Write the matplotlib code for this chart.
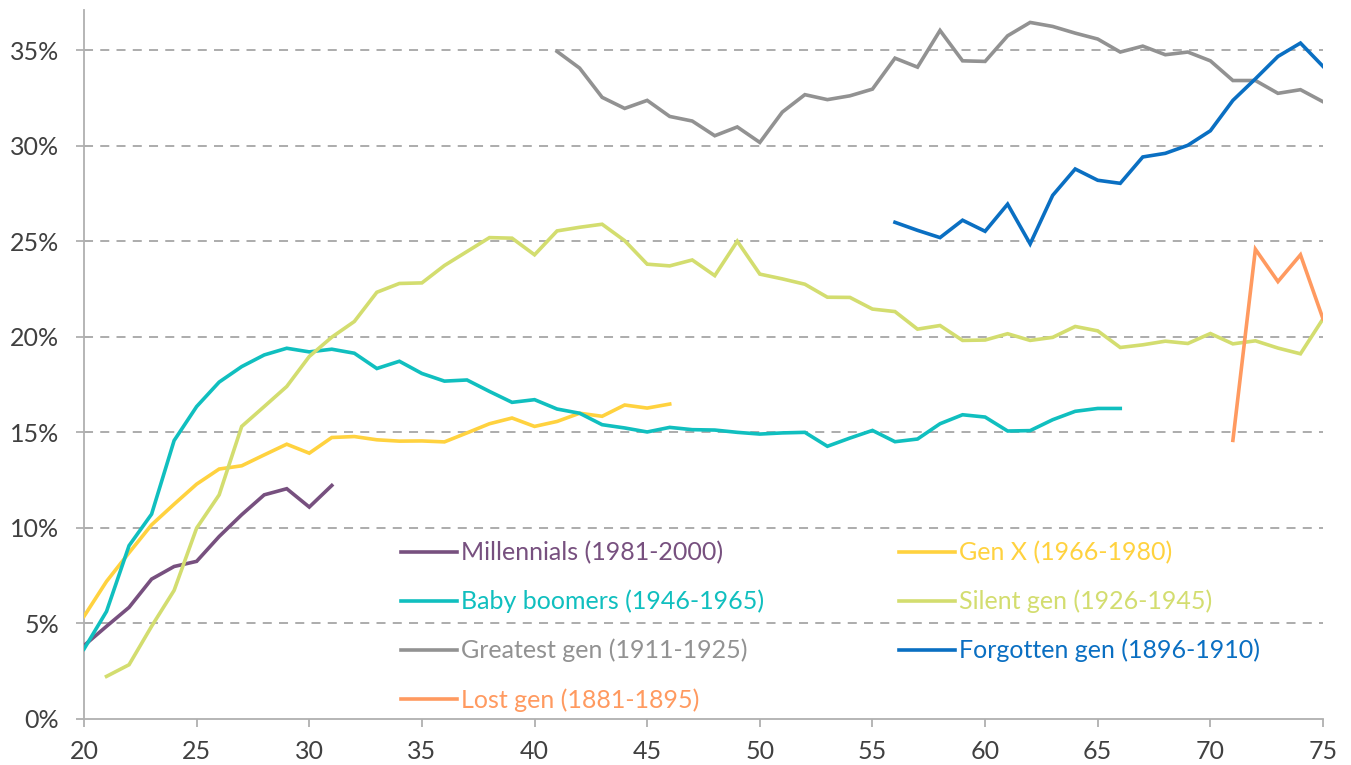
import matplotlib
matplotlib.use("Agg")
import matplotlib.pyplot as plt
import numpy as np

plt.rcParams['font.family'] = ['Lato', 'DejaVu Sans']

# ---------------- data ----------------
millennials_ages = list(range(20, 32))
millennials = [3.84, 4.85, 5.84, 7.32, 7.98, 8.25, 9.55, 10.69, 11.73, 12.05, 11.09, 12.22]

genx_ages = list(range(20, 47))
genx = [5.37, 7.2, 8.7, 10.16, 11.24, 12.29, 13.08, 13.25, 13.82, 14.38, 13.91, 14.73,
        14.78, 14.61, 14.54, 14.55, 14.5, 14.97, 15.45, 15.75, 15.31, 15.57, 16.0,
        15.84, 16.43, 16.27, 16.48]

boomers_ages = list(range(20, 67))
boomers = [3.66, 5.63, 9.07, 10.72, 14.57, 16.35, 17.63, 18.44, 19.05, 19.4, 19.21,
           19.35, 19.14, 18.34, 18.72, 18.08, 17.68, 17.74, 17.14, 16.57, 16.71, 16.22,
           16.0, 15.4, 15.23, 15.02, 15.26, 15.14, 15.12, 15.0, 14.91, 14.97,
           15.0, 14.27, 14.7, 15.1, 14.51, 14.65, 15.45, 15.92, 15.8, 15.07, 15.09,
           15.66, 16.1, 16.25, 16.25]

silent_ages = list(range(21, 76))
silent = [2.23, 2.84, 4.85, 6.73, 9.99, 11.73, 15.31, 16.35, 17.4, 18.97, 19.98, 20.8,
          22.33, 22.79, 22.82, 23.73, 24.46, 25.19, 25.16, 24.29, 25.54, 25.73, 25.89,
          25.03, 23.8, 23.71, 24.02, 23.2, 25.0, 23.28, 23.03, 22.75, 22.07, 22.06,
          21.45, 21.32, 20.4, 20.59, 19.81, 19.83, 20.16, 19.81, 19.97, 20.54, 20.31,
          19.44, 19.58, 19.77, 19.65, 20.17, 19.63, 19.79, 19.41, 19.11, 20.94]

greatest_ages = list(range(41, 76))
greatest = [34.93, 34.06, 32.53, 31.95, 32.37, 31.53, 31.29, 30.52, 30.98, 30.17, 31.76,
            32.67, 32.41, 32.61, 32.96, 34.58, 34.11, 36.03, 34.44, 34.41, 35.75, 36.45,
            36.24, 35.89, 35.58, 34.9, 35.21, 34.76, 34.9, 34.44, 33.41, 33.41, 32.74,
            32.93, 32.3]

forgotten_ages = list(range(56, 76))
forgotten = [25.99, 25.57, 25.19, 26.1, 25.52, 26.94, 24.86, 27.4, 28.78, 28.19, 28.03,
             29.41, 29.6, 30.02, 30.78, 32.37, 33.5, 34.67, 35.37, 34.15]

lost_ages = list(range(71, 76))
lost = [14.58, 24.58, 22.89, 24.29, 20.94]

labels = ["Millennials (1981-2000)", "Gen X (1966-1980)", "Baby boomers (1946-1965)",
          "Silent gen (1926-1945)", "Greatest gen (1911-1925)", "Forgotten gen (1896-1910)",
          "Lost gen (1881-1895)"]
colors = ["#77507F", "#FFD23F", "#10BFBF", "#D3DD6F", "#929292", "#0A6FC2", "#FF9A60"]

y_ticks = [0, 5, 10, 15, 20, 25, 30, 35]
x_ticks = [20, 25, 30, 35, 40, 45, 50, 55, 60, 65, 70, 75]

# ---------------- figure ----------------
fig = plt.figure(figsize=(13.51, 7.65), dpi=100)
ax = fig.add_axes([84/1351, 46/765, (1323-84)/1351, (719-10)/765])

series = [(millennials_ages, millennials), (genx_ages, genx), (boomers_ages, boomers),
          (silent_ages, silent), (greatest_ages, greatest), (forgotten_ages, forgotten),
          (lost_ages, lost)]
lines = []
for (xs, ys), lab, c in zip(series, labels, colors):
    ln, = ax.plot(xs, ys, color=c, lw=2.6, label=lab, solid_joinstyle='miter', zorder=3)
    lines.append(ln)

ax.set_xlim(20, 75)
ax.set_ylim(0, 37.1)
ax.set_xticks(x_ticks)
ax.set_yticks(y_ticks)
ax.set_yticklabels([f"{v}%" for v in y_ticks])

for v in y_ticks[1:]:
    ax.axhline(v, color="#A6A6A6", lw=1.3, ls=(0, (5, 4)), zorder=1)

for s in ["top", "right"]:
    ax.spines[s].set_visible(False)
for s in ["left", "bottom"]:
    ax.spines[s].set_color("#B0B0B0")
    ax.spines[s].set_linewidth(1.3)

ax.tick_params(axis="both", colors="#B0B0B0", width=1.3, length=6,
               labelcolor="#404040", labelsize=18)
ax.tick_params(axis="x", pad=9)
ax.tick_params(axis="y", pad=12)

order = [0, 2, 4, 6, 1, 3, 5]
leg = ax.legend([lines[i] for i in order], [labels[i] for i in order], ncol=2,
                loc="upper left", bbox_to_anchor=((401-84)/1239, (719-541)/709),
                frameon=False, fontsize=18, handlelength=2.24, handletextpad=0.16,
                columnspacing=5.4, labelspacing=1.02, borderpad=0, borderaxespad=0)
for t, i in zip(leg.get_texts(), order):
    t.set_color(colors[i])

fig.savefig("out.png", dpi=100)
